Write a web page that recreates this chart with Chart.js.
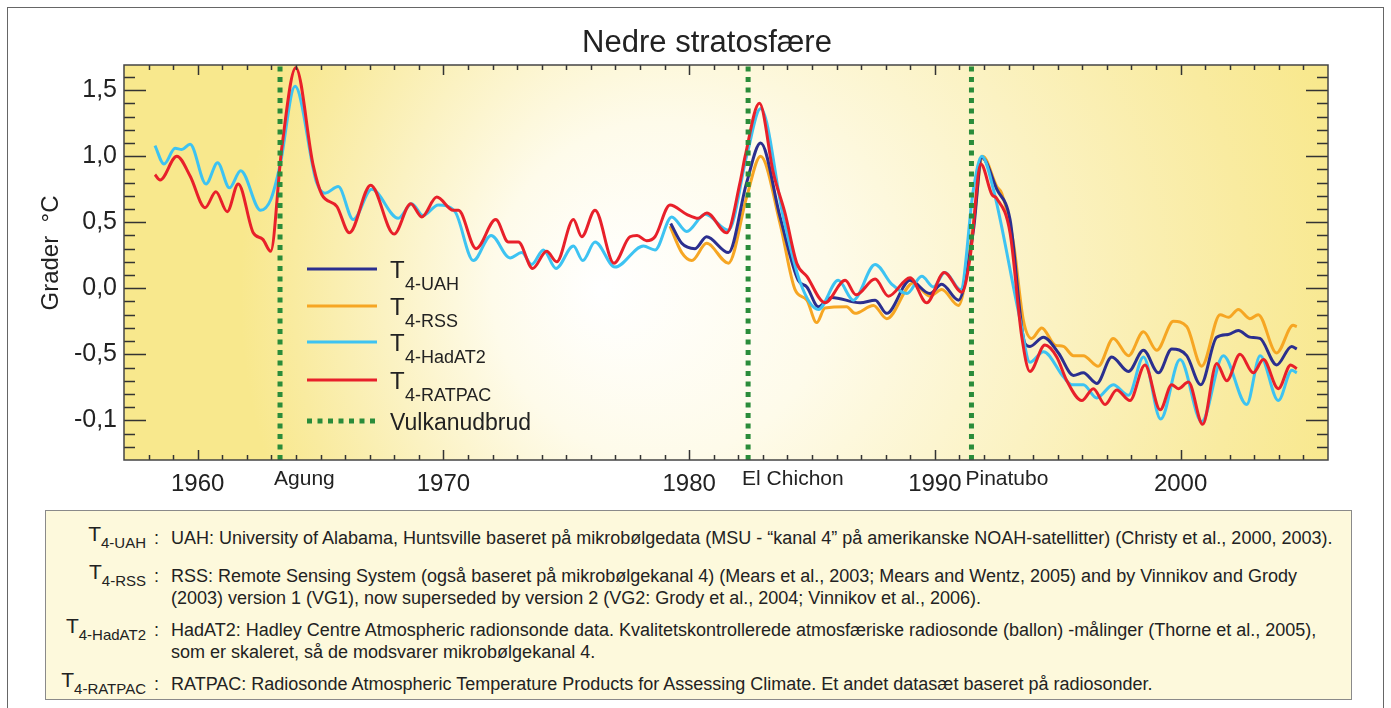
<!DOCTYPE html>
<html>
<head>
<meta charset="utf-8">
<script src="https://cdn.jsdelivr.net/npm/chart.js@4.4.0/dist/chart.umd.min.js"></script>
<style>
  body { margin: 0; background: #fff; font-family: "Liberation Sans", Arial, sans-serif; }
  #wrap { position: relative; width: 1391px; height: 708px; overflow: hidden; }
  #c { position: absolute; left: 0; top: 0; }
  #frame { position: absolute; left: 7px; top: 7px; width: 1375px; height: 720px; border: 1.5px solid #666; }
  #notes { position: absolute; left: 45px; top: 510px; width: 1307px; height: 190px; background: #fdf9dc; border: 1.5px solid #8a8a8a; box-sizing: border-box; color: #222; }
  .row { position: absolute; left: 0; width: 100%; font-size: 18px; line-height: 22px; }
  .lab { position: absolute; right: 1205px; top: -4px; font-size: 21px; white-space: nowrap; }
  .lab sub { font-size: 15px; vertical-align: -7px; }
  .colon { position: absolute; left: 108px; top: 0; }
  .txt { position: absolute; left: 125px; top: 0; white-space: nowrap; }
</style>
</head>
<body>
<div id="wrap">
  <canvas id="c" width="1391" height="708"></canvas>
  <div id="frame"></div>
  <div id="notes">
    <div class="row" style="top:16px"><span class="lab">T<sub>4-UAH</sub></span><span class="colon">:</span>
      <div class="txt">UAH: University of Alabama, Huntsville baseret på mikrobølgedata (MSU - “kanal 4” på amerikanske NOAH-satellitter) (Christy et al., 2000, 2003).</div></div>
    <div class="row" style="top:54px"><span class="lab">T<sub>4-RSS</sub></span><span class="colon">:</span>
      <div class="txt">RSS: Remote Sensing System (også baseret på mikrobølgekanal 4) (Mears et al., 2003; Mears and Wentz, 2005) and by Vinnikov and Grody<br>(2003) version 1 (VG1), now superseded by version 2 (VG2: Grody et al., 2004; Vinnikov et al., 2006).</div></div>
    <div class="row" style="top:108px"><span class="lab">T<sub>4-HadAT2</sub></span><span class="colon">:</span>
      <div class="txt">HadAT2: Hadley Centre Atmospheric radionsonde data. Kvalitetskontrollerede atmosfæriske radiosonde (ballon) -målinger (Thorne et al., 2005),<br>som er skaleret, så de modsvarer mikrobølgekanal 4.</div></div>
    <div class="row" style="top:162px"><span class="lab">T<sub>4-RATPAC</sub></span><span class="colon">:</span>
      <div class="txt">RATPAC: Radiosonde Atmospheric Temperature Products for Assessing Climate. Et andet datasæt baseret på radiosonder.</div></div>
  </div>
</div>
<script>
var chartTitle = "Nedre stratosfære"
var yTitle = "Grader  °C"

var seriesSubs = ["4-UAH", "4-RSS", "4-HadAT2", "4-RATPAC"]
var seriesColors = ["#2b2f8f", "#f6a623", "#3dc3f2", "#e8202a"]

var uahYears = [1979.25, 1979.70, 1980.24, 1980.71, 1981.60, 1982.34, 1982.91, 1983.70, 1984.44, 1984.79, 1985.26, 1985.80, 1986.96, 1987.57, 1988.04, 1988.99, 1989.80, 1990.28, 1990.96, 1991.57, 1991.91, 1992.52, 1993.06, 1993.67, 1993.87, 1994.42, 1995.03, 1995.64, 1996.04, 1996.59, 1997.20, 1997.88, 1998.49, 1999.10, 1999.64, 2000.25, 2000.82, 2001.47, 2001.94, 2002.35, 2002.82, 2003.23, 2003.91, 2004.52, 2004.73]
var uahValues = [0.49, 0.34, 0.30, 0.39, 0.27, 0.80, 1.10, 0.54, 0.06, 0.01, -0.14, -0.07, -0.11, -0.09, -0.19, 0.06, -0.04, 0.03, -0.09, 0.44, 0.99, 0.75, 0.52, -0.42, -0.44, -0.37, -0.49, -0.66, -0.64, -0.72, -0.52, -0.63, -0.47, -0.64, -0.46, -0.51, -0.73, -0.37, -0.35, -0.32, -0.37, -0.38, -0.58, -0.44, -0.46]

var rssYears = [1979.22, 1979.70, 1980.11, 1980.71, 1981.60, 1982.34, 1982.91, 1983.70, 1984.31, 1984.79, 1985.19, 1985.53, 1986.41, 1986.75, 1987.50, 1988.04, 1989.12, 1989.80, 1990.28, 1990.96, 1991.57, 1991.95, 1992.52, 1992.72, 1993.20, 1993.60, 1993.94, 1994.35, 1994.89, 1995.23, 1995.64, 1996.04, 1996.65, 1997.26, 1997.88, 1998.49, 1999.03, 1999.71, 2000.25, 2000.86, 2001.61, 2001.95, 2002.35, 2002.82, 2003.16, 2003.91, 2004.58, 2004.73]
var rssValues = [0.47, 0.27, 0.21, 0.34, 0.19, 0.69, 1.00, 0.49, -0.01, -0.09, -0.26, -0.15, -0.14, -0.19, -0.13, -0.23, 0.04, -0.06, -0.01, -0.13, 0.49, 1.00, 0.77, 0.72, 0.34, -0.24, -0.38, -0.30, -0.43, -0.44, -0.51, -0.51, -0.59, -0.38, -0.51, -0.33, -0.47, -0.25, -0.29, -0.59, -0.20, -0.22, -0.16, -0.23, -0.20, -0.49, -0.28, -0.29]

var hadYears = [1958.26, 1958.63, 1959.08, 1959.35, 1959.69, 1960.34, 1960.81, 1961.29, 1961.75, 1962.56, 1962.97, 1963.35, 1963.96, 1964.84, 1965.18, 1965.72, 1966.33, 1967.08, 1968.16, 1968.71, 1969.17, 1969.79, 1970.47, 1971.22, 1971.94, 1972.71, 1973.19, 1973.59, 1974.07, 1974.58, 1975.29, 1975.67, 1976.17, 1976.98, 1978.14, 1978.61, 1979.29, 1979.90, 1980.65, 1981.60, 1982.34, 1982.91, 1983.83, 1984.51, 1985.26, 1986.07, 1986.68, 1987.57, 1988.25, 1988.86, 1989.47, 1989.94, 1990.41, 1991.05, 1991.57, 1991.91, 1992.38, 1993.47, 1993.87, 1994.42, 1995.23, 1995.57, 1996.04, 1996.59, 1997.26, 1997.88, 1998.49, 1999.19, 1999.98, 2000.86, 2001.74, 2002.69, 2003.24, 2003.98, 2004.53, 2004.73]
var hadValues = [1.08, 0.94, 1.06, 1.05, 1.09, 0.79, 0.95, 0.76, 0.89, 0.59, 0.67, 0.93, 1.53, 0.80, 0.72, 0.77, 0.52, 0.75, 0.53, 0.64, 0.55, 0.63, 0.58, 0.21, 0.40, 0.23, 0.27, 0.18, 0.29, 0.15, 0.32, 0.21, 0.35, 0.16, 0.32, 0.29, 0.54, 0.43, 0.56, 0.44, 1.00, 1.36, 0.54, 0.05, -0.16, 0.06, -0.09, 0.18, 0.03, -0.04, 0.09, 0.01, 0.12, -0.01, 0.75, 1.00, 0.75, -0.24, -0.56, -0.48, -0.67, -0.73, -0.73, -0.83, -0.73, -0.81, -0.52, -0.99, -0.54, -1.01, -0.51, -0.88, -0.51, -0.85, -0.62, -0.64]

var ratpacYears = [1958.26, 1958.47, 1959.15, 1959.69, 1960.30, 1960.74, 1961.20, 1961.65, 1962.26, 1962.65, 1962.97, 1963.42, 1963.99, 1964.70, 1965.05, 1965.66, 1966.17, 1967.04, 1967.99, 1968.67, 1969.12, 1969.73, 1970.40, 1970.61, 1971.33, 1972.13, 1972.64, 1973.05, 1973.63, 1974.20, 1974.61, 1975.29, 1975.63, 1976.17, 1976.94, 1977.59, 1977.88, 1978.27, 1978.61, 1979.22, 1979.90, 1980.37, 1980.72, 1981.53, 1982.07, 1982.28, 1982.86, 1983.43, 1983.90, 1984.38, 1984.79, 1985.53, 1986.35, 1986.79, 1987.57, 1988.11, 1988.99, 1989.67, 1990.38, 1991.10, 1991.44, 1991.87, 1992.32, 1992.52, 1993.06, 1993.54, 1993.87, 1994.48, 1994.96, 1995.37, 1995.98, 1996.45, 1996.93, 1997.40, 1997.94, 1998.55, 1999.17, 1999.64, 1999.91, 2000.32, 2000.90, 2001.47, 2001.88, 2002.42, 2002.96, 2003.37, 2003.98, 2004.48, 2004.73]
var ratpacValues = [0.86, 0.82, 1.00, 0.85, 0.61, 0.73, 0.58, 0.79, 0.42, 0.37, 0.28, 1.06, 1.67, 0.93, 0.71, 0.62, 0.42, 0.78, 0.41, 0.64, 0.54, 0.69, 0.59, 0.59, 0.30, 0.52, 0.35, 0.35, 0.15, 0.28, 0.20, 0.52, 0.39, 0.59, 0.19, 0.39, 0.40, 0.36, 0.39, 0.63, 0.56, 0.53, 0.57, 0.42, 0.80, 1.00, 1.40, 0.87, 0.57, 0.19, 0.09, -0.11, 0.06, -0.05, 0.07, -0.06, 0.08, -0.11, 0.12, -0.03, 0.24, 0.94, 0.71, 0.68, 0.42, -0.37, -0.63, -0.43, -0.52, -0.70, -0.85, -0.76, -0.88, -0.77, -0.85, -0.58, -0.92, -0.73, -0.76, -0.71, -1.03, -0.57, -0.70, -0.50, -0.64, -0.54, -0.76, -0.58, -0.61]

var volcanoYears = [1963.35, 1982.40, 1991.49]
var volcanoNames = ["Agung", "El Chichon", "Pinatubo"]
var volcanoLabel = "Vulkanudbrud"
var volcanoColor = "#2a8c3a"

var decadeTicks = [1960, 1970, 1980, 1990, 2000]
var yTickValues = [-1, -0.5, 0, 0.5, 1, 1.5]
var yTickLabels = ["-0,1", "-0,5", "0,0", "0,5", "1,0", "1,5"]

var xMin = 1957, xMax = 2006, yMin = -1.3, yMax = 1.69
var fam = '"Liberation Sans", Arial, sans-serif'

function toPoints(xs, ys) {
    return xs.map((x, i) => ({ x: x, y: ys[i] }))
}

var datasets = [
    { data: toPoints(ratpacYears, ratpacValues), borderColor: seriesColors[3], order: 1 },
    { data: toPoints(hadYears, hadValues), borderColor: seriesColors[2], order: 2 },
    { data: toPoints(uahYears, uahValues), borderColor: seriesColors[0], order: 3 },
    { data: toPoints(rssYears, rssValues), borderColor: seriesColors[1], order: 4 }
].map(d => Object.assign(d, { borderWidth: 3, pointRadius: 0, cubicInterpolationMode: "monotone", fill: false }))

volcanoYears.forEach(v => {
    datasets.push({
        data: [{ x: v, y: yMin }, { x: v, y: yMax }],
        borderColor: volcanoColor, borderWidth: 5, borderDash: [5, 5.5], borderCapStyle: "butt",
        pointRadius: 0, tension: 0, order: 0
    })
})

var background = {
    id: "background",
    beforeDatasetsDraw(chart) {
        var ctx = chart.ctx, a = chart.chartArea
        ctx.save()
        var g = ctx.createRadialGradient(600, 290, 0, 800, 290, 560)
        g.addColorStop(0, "#ffffff")
        g.addColorStop(0.3, "#fefbea")
        g.addColorStop(0.6, "#fbf2c2")
        g.addColorStop(0.85, "#f9eba0")
        g.addColorStop(1, "#f8e88d")
        ctx.fillStyle = g
        ctx.fillRect(a.left, a.top, a.right - a.left, a.bottom - a.top)
        ctx.restore()
    }
}

var decorations = {
    id: "decorations",
    afterDraw(chart) {
        var ctx = chart.ctx, a = chart.chartArea
        var x = chart.scales.x, y = chart.scales.y
        ctx.save()
        // ticks, all pointing inwards
        ctx.strokeStyle = "#333"
        ctx.lineWidth = 1.5
        ctx.beginPath()
        for (var yr = xMin + 1; yr < xMax; yr++) {
            var px = Math.round(x.getPixelForValue(yr)) + 0.5
            var L = yr % 10 === 0 ? 10 : 5
            ctx.moveTo(px, a.bottom); ctx.lineTo(px, a.bottom - L)
            ctx.moveTo(px, a.top); ctx.lineTo(px, a.top + L)
        }
        for (var k = -12; k <= 16; k++) {
            var py = Math.round(y.getPixelForValue(k / 10)) + 0.5
            var L2 = k % 5 === 0 ? 22 : 11
            ctx.moveTo(a.left, py); ctx.lineTo(a.left + L2, py)
            ctx.moveTo(a.right, py); ctx.lineTo(a.right - L2, py)
        }
        ctx.stroke()
        ctx.strokeStyle = "#444"
        ctx.strokeRect(a.left, a.top, a.right - a.left, a.bottom - a.top)

        ctx.fillStyle = "#222"
        // title
        ctx.font = "31px " + fam
        ctx.textAlign = "center"
        ctx.textBaseline = "alphabetic"
        ctx.fillText(chartTitle, 707, 52)

        // y title
        ctx.save()
        ctx.translate(58, 253)
        ctx.rotate(-Math.PI / 2)
        ctx.font = "24px " + fam
        ctx.fillText(yTitle, 0, 0)
        ctx.restore()

        // volcano names
        ctx.font = "21px " + fam
        ctx.textAlign = "left"
        volcanoYears.forEach((v, i) => {
            ctx.fillText(volcanoNames[i], x.getPixelForValue(v) - 6, 485)
        })

        // legend
        var lx0 = 307, lx1 = 377, rows = [269, 306, 342, 380]
        var legendOrder = [2, 3, 1, 0]
        rows.forEach((ly, i) => {
            var ds = chart.data.datasets[legendOrder[i]]
            ctx.strokeStyle = ds.borderColor
            ctx.lineWidth = 3
            ctx.beginPath(); ctx.moveTo(lx0, ly); ctx.lineTo(lx1, ly); ctx.stroke()
            ctx.font = "24px " + fam
            ctx.fillText("T", 390, ly + 9)
            ctx.font = "18px " + fam
            ctx.fillText(seriesSubs[i], 405, ly + 21)
        })
        ctx.strokeStyle = volcanoColor
        ctx.lineWidth = 5
        ctx.setLineDash([5, 5.5])
        ctx.beginPath(); ctx.moveTo(lx0, 421); ctx.lineTo(lx1, 421); ctx.stroke()
        ctx.setLineDash([])
        ctx.font = "23px " + fam
        ctx.fillText(volcanoLabel, 390, 430)
        ctx.restore()
    }
}

var chart = new Chart(document.getElementById("c").getContext("2d"), {
    type: "line",
    data: { datasets: datasets },
    options: {
        responsive: false,
        animation: false,
        devicePixelRatio: 1,
        layout: { padding: { left: 0, top: 65, right: 63, bottom: 0 } },
        plugins: { legend: { display: false }, tooltip: { enabled: false } },
        scales: {
            x: {
                type: "linear", min: xMin, max: xMax,
                grid: { display: false, drawTicks: false },
                border: { display: false },
                afterBuildTicks: s => { s.ticks = decadeTicks.map(v => ({ value: v })) },
                afterFit: s => { s.height = 248 },
                ticks: {
                    autoSkip: false, maxRotation: 0, padding: 10, color: "#222",
                    font: { size: 24, family: fam },
                    callback: v => String(v)
                }
            },
            y: {
                min: yMin, max: yMax,
                grid: { display: false, drawTicks: false },
                border: { display: false },
                afterBuildTicks: s => { s.ticks = yTickValues.map(v => ({ value: v })) },
                afterFit: s => { s.width = 124 },
                ticks: {
                    padding: 7, color: "#222",
                    font: { size: 25, family: fam },
                    callback: (v, i) => yTickLabels[i]
                }
            }
        }
    },
    plugins: [background, decorations]
})
</script>
</body>
</html>
